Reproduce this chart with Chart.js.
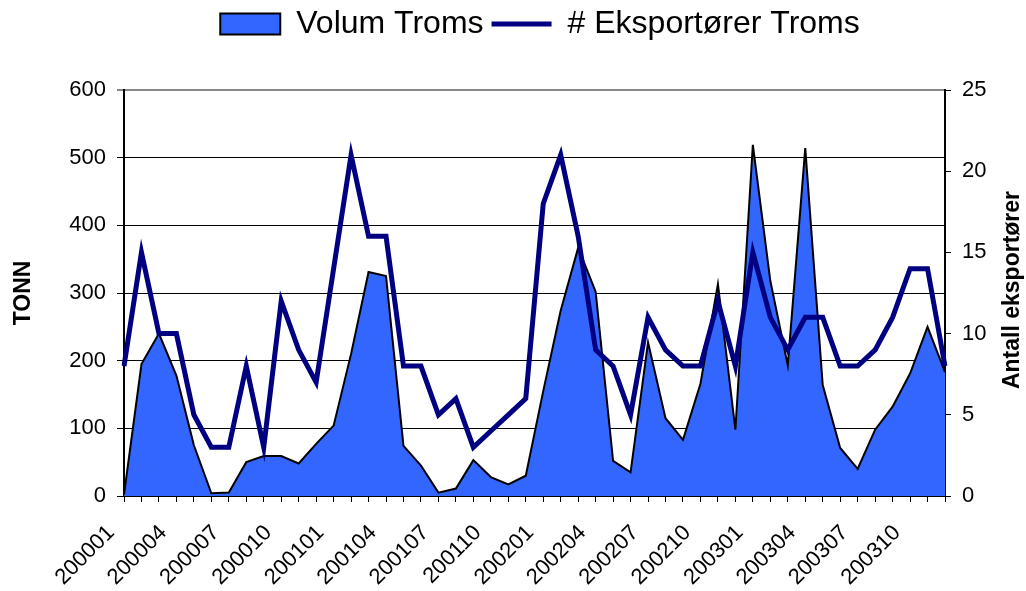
<!DOCTYPE html>
<html>
<head>
<meta charset="utf-8">
<script src="https://cdn.jsdelivr.net/npm/chart.js@4"></script>
<style>
html,body{margin:0;padding:0;background:#fff;}
#wrap{width:1026px;height:591px;}
</style>
</head>
<body>
<div id="wrap"><canvas id="c" width="1026" height="591"></canvas></div>
<script>
const months = [
  "200001","200002","200003","200004","200005","200006","200007","200008","200009","200010","200011","200012",
  "200101","200102","200103","200104","200105","200106","200107","200108","200109","200110","200111","200112",
  "200201","200202","200203","200204","200205","200206","200207","200208","200209","200210","200211","200212",
  "200301","200302","200303","200304","200305","200306","200307","200308","200309","200310","200311","200312"
];
const volumTroms = [
  2,195,240,178,75,4,5,50,59,59,48,77,
  104,210,331,325,74,45,5,11,53,28,17,30,
  155,274,367,302,52,35,227,115,83,166,313,98,
  519,318,193,514,164,71,40,98,132,181,250,183
];
const eksportorer = [
  8,15,10,10,5,3,3,8,3,12,9,7,
  14,21,16,16,8,8,5,6,3,4,5,6,
  18,21,16,9,8,5,11,9,8,8,12,8,
  15,11,9,11,11,8,8,9,11,14,14,8
];
const leftTicks = [0,100,200,300,400,500,600];
const rightTicks = [0,5,10,15,20,25];

const FONT = "'Liberation Sans', Arial, sans-serif";

const legendSpacer = {
  id: 'legendSpacer',
  beforeInit(chart) {
    const origFit = chart.legend.fit;
    chart.legend.fit = function () {
      origFit.call(this);
      this.height += 40;
    };
  },
  afterLayout(chart) {
    chart.legend.left += 27;
    chart.legend.right += 27;
  }
};

const rightTitle = {
  id: 'rightTitle',
  afterDraw(chart) {
    const ctx = chart.ctx;
    ctx.save();
    ctx.translate(1013, 290);
    ctx.rotate(-Math.PI / 2);
    ctx.font = "bold 23px " + FONT;
    ctx.fillStyle = '#000';
    ctx.textAlign = 'center';
    ctx.textBaseline = 'middle';
    ctx.fillText('Antall eksportører', 0, 0);
    ctx.restore();
  }
};

new Chart(document.getElementById('c'), {
  type: 'line',
  data: {
    labels: months,
    datasets: [
      {
        label: 'Volum Troms',
        data: volumTroms,
        yAxisID: 'y',
        fill: 'origin',
        backgroundColor: '#3366FF',
        borderColor: '#000000',
        borderWidth: 2,
        pointRadius: 0,
        tension: 0,
        order: 1,
        pointStyle: 'rect'
      },
      {
        label: '# Eksportører Troms',
        data: eksportorer,
        yAxisID: 'y1',
        fill: false,
        borderColor: '#000080',
        backgroundColor: '#000080',
        borderWidth: 5,
        pointRadius: 0,
        tension: 0,
        order: 0,
        pointStyle: 'line'
      }
    ]
  },
  options: {
    responsive: false,
    animation: false,
    devicePixelRatio: 1,
    layout: { padding: { left: 0, right: 0, top: 0, bottom: 0 } },
    plugins: {
      legend: {
        display: true,
        position: 'top',
        labels: {
          font: { family: FONT, size: 32 },
          color: '#000',
          usePointStyle: true,
          pointStyleWidth: 60,
          boxHeight: 21,
          padding: 8,
          generateLabels(chart) {
            return [
              { text: 'Volum Troms', fillStyle: '#3366FF', strokeStyle: '#000', lineWidth: 2, pointStyle: 'rect', datasetIndex: 0, hidden: false },
              { text: '# Eksportører Troms', fillStyle: '#000080', strokeStyle: '#000080', lineWidth: 5, pointStyle: 'line', datasetIndex: 1, hidden: false }
            ];
          }
        }
      },
      tooltip: { enabled: false }
    },
    scales: {
      x: {
        type: 'category',
        offset: false,
        grid: { drawOnChartArea: false, drawTicks: true, tickLength: 6, color: '#000', lineWidth: 1 },
        border: { color: '#000', width: 1 },
        ticks: {
          autoSkip: false,
          minRotation: 45,
          maxRotation: 45,
          padding: 5,
          color: '#000',
          font: { family: FONT, size: 22 },
          callback(value, index) { return index % 3 === 0 ? months[index] + '   ' : ''; }
        },
        afterFit(scale) { scale.height = 95; }
      },
      y: {
        position: 'left',
        min: 0,
        max: 600,
        afterBuildTicks(scale) { scale.ticks = leftTicks.map(v => ({ value: v })); },
        grid: {
          color(ctx) { return ctx.tick && ctx.tick.value === 600 ? '#888' : '#000'; },
          lineWidth(ctx) { return ctx.tick && ctx.tick.value === 600 ? 2 : 1; },
          tickLength: 7,
          drawTicks: true
        },
        border: { color: '#000', width: 2 },
        ticks: { color: '#000', font: { family: FONT, size: 22 }, padding: 11 },
        title: { display: true, text: 'TONN', color: '#000', font: { family: FONT, size: 23, weight: 'bold' }, padding: { top: 10, bottom: 0 } },
        afterFit(scale) { scale.width = 124; }
      },
      y1: {
        position: 'right',
        min: 0,
        max: 25,
        afterBuildTicks(scale) { scale.ticks = rightTicks.map(v => ({ value: v })); },
        grid: { drawOnChartArea: false, tickLength: 6, color: '#000' },
        border: { color: '#000', width: 2 },
        ticks: { color: '#000', font: { family: FONT, size: 22 }, padding: 11 },
        afterFit(scale) { scale.width = 81; }
      }
    }
  },
  plugins: [legendSpacer, rightTitle]
});
</script>
</body>
</html>
